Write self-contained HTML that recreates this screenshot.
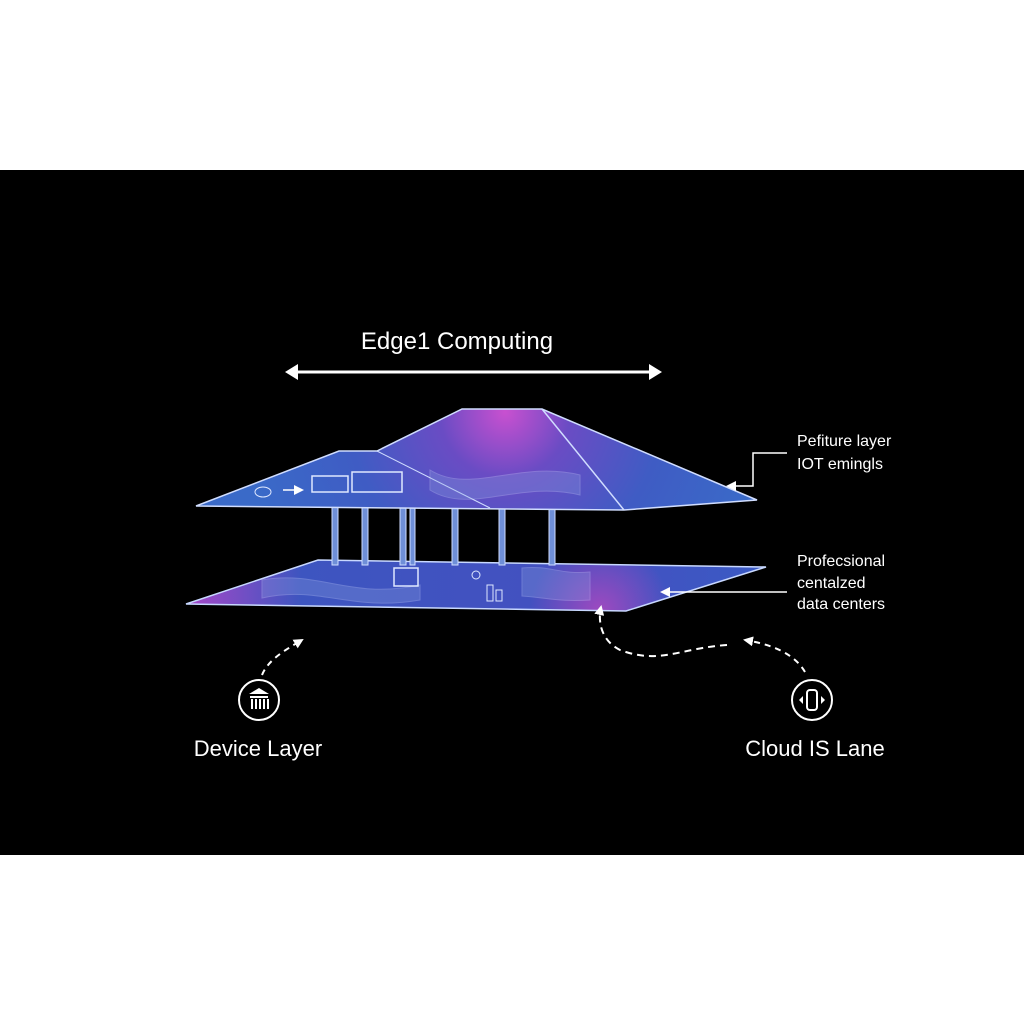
<!DOCTYPE html>
<html><head><meta charset="utf-8"><style>
html,body{margin:0;padding:0;background:#fff;}
svg{display:block;}
text{font-family:"Liberation Sans",sans-serif;fill:#fff;}
</style></head><body>
<svg width="1024" height="1024" viewBox="0 0 1024 1024" xmlns="http://www.w3.org/2000/svg">
<defs>
<radialGradient id="g1" cx="505" cy="412" r="260" gradientUnits="userSpaceOnUse">
<stop offset="0" stop-color="#c850d0"/><stop offset="0.25" stop-color="#6a4cc4"/><stop offset="0.6" stop-color="#3f5cc4"/><stop offset="1" stop-color="#3a6ac8"/>
</radialGradient>
<radialGradient id="g2" cx="600" cy="610" r="70" gradientUnits="userSpaceOnUse">
<stop offset="0" stop-color="#b448c0" stop-opacity="0.8"/><stop offset="1" stop-color="#b448c0" stop-opacity="0"/>
</radialGradient>
<linearGradient id="g3" x1="185" y1="0" x2="766" y2="0" gradientUnits="userSpaceOnUse">
<stop offset="0" stop-color="#a848c8"/><stop offset="0.2" stop-color="#3d55c0"/><stop offset="0.7" stop-color="#4450c0"/><stop offset="1" stop-color="#3a5ac4"/>
</linearGradient>
<clipPath id="cp"><polygon points="186,604 318,560 766,567 626,611"/></clipPath>
<marker id="ah" markerWidth="10" markerHeight="10" refX="8" refY="5" orient="auto" markerUnits="userSpaceOnUse"><path d="M0,0 L10,5 L0,10 z" fill="#fff"/></marker>
</defs>
<rect x="0" y="170" width="1024" height="685" fill="#000"/>

<text x="457" y="349" font-size="24" text-anchor="middle">Edge1 Computing</text>
<line x1="292" y1="372" x2="655" y2="372" stroke="#fff" stroke-width="3"/>
<path d="M285,372 L298,364 L298,380 z" fill="#fff"/><path d="M662,372 L649,364 L649,380 z" fill="#fff"/>

<!-- lower plate -->
<polygon points="186,604 318,560 766,567 626,611" fill="url(#g3)"/>
<g clip-path="url(#cp)"><circle cx="600" cy="610" r="70" fill="url(#g2)"/></g>
<polygon points="186,604 318,560 766,567 626,611" fill="none" stroke="#c8d8ff" stroke-width="1.5"/>
<path d="M262,580 C320,570 350,600 420,585 L420,600 C350,612 320,585 262,598 z" fill="#8aa0e0" opacity="0.3" stroke="#cfd9ff" stroke-width="1"/>
<path d="M522,568 C550,565 560,575 590,572 L590,600 C560,602 550,598 522,596 z" fill="#8aa0e0" opacity="0.3" stroke="#cfd9ff" stroke-width="1"/>
<rect x="394" y="568" width="24" height="18" fill="none" stroke="#dfe8ff" stroke-width="1.5"/>
<rect x="487" y="585" width="6" height="16" fill="none" stroke="#dfe8ff"/><rect x="496" y="590" width="6" height="11" fill="none" stroke="#dfe8ff"/>
<circle cx="476" cy="575" r="4" fill="none" stroke="#dfe8ff"/>

<!-- pillars -->
<g fill="#6f8fd8" stroke="#cfdcff" stroke-width="1">
<rect x="332" y="505" width="6" height="60"/><rect x="362" y="505" width="6" height="60"/>
<rect x="400" y="505" width="6" height="60"/><rect x="410" y="505" width="5" height="60"/>
<rect x="452" y="505" width="6" height="60"/><rect x="499" y="505" width="6" height="60"/>
<rect x="549" y="505" width="6" height="60"/>
</g>

<!-- roof -->
<polygon points="196,506 339,451 377,451 462,409 542,409 757,500 624,510 400,508" fill="url(#g1)" stroke="#d0ddff" stroke-width="1.5"/>
<line x1="542" y1="409" x2="624" y2="510" stroke="#d0ddff" stroke-width="1.5"/>
<line x1="377" y1="451" x2="490" y2="508" stroke="#d0ddff" stroke-width="1"/>
<path d="M430,470 C470,495 520,460 580,475 L580,495 C520,480 470,515 430,490 z" fill="#8aa0e0" opacity="0.3" stroke="#cfd9ff"/>
<rect x="312" y="476" width="36" height="16" fill="none" stroke="#dfe8ff" stroke-width="1.5"/>
<rect x="352" y="472" width="50" height="20" fill="none" stroke="#dfe8ff" stroke-width="1.5"/>
<line x1="283" y1="490" x2="302" y2="490" stroke="#fff" stroke-width="1.5" marker-end="url(#ah)"/>
<ellipse cx="263" cy="492" rx="8" ry="5" fill="none" stroke="#dfe8ff"/>

<!-- right labels -->
<text x="797" y="446" font-size="16">Pefiture layer</text>
<text x="797" y="469" font-size="16">IOT emingls</text>
<polyline points="787,453 753,453 753,486 728,486" fill="none" stroke="#fff" stroke-width="1.5" marker-end="url(#ah)"/>
<text x="797" y="566" font-size="16">Profecsional</text>
<text x="797" y="588" font-size="16">centalzed</text>
<text x="797" y="609" font-size="16">data centers</text>
<line x1="787" y1="592" x2="662" y2="592" stroke="#fff" stroke-width="1.5" marker-end="url(#ah)"/>

<!-- dashed curves -->
<path d="M262,675 C268,660 285,650 302,640" fill="none" stroke="#fff" stroke-width="2" stroke-dasharray="6,5" marker-end="url(#ah)"/>
<path d="M727,645 C680,648 660,665 620,650 C600,640 598,620 601,607" fill="none" stroke="#fff" stroke-width="2" stroke-dasharray="7,5" marker-end="url(#ah)"/>
<path d="M805,672 C795,655 775,645 745,640" fill="none" stroke="#fff" stroke-width="2" stroke-dasharray="6,5" marker-end="url(#ah)"/>

<!-- icons -->
<circle cx="259" cy="700" r="20" fill="none" stroke="#fff" stroke-width="2"/>
<path d="M249,694 L259,688 L269,694 z M250,696 h18 v2 h-18 z M251,699 h2 v10 h-2 z M255,699 h2 v10 h-2 z M259,699 h2 v10 h-2 z M263,699 h2 v10 h-2 z M267,699 h2 v10 h-2 z" fill="#fff"/>
<circle cx="812" cy="700" r="20" fill="none" stroke="#fff" stroke-width="2"/>
<rect x="807" y="690" width="10" height="20" rx="3" fill="none" stroke="#fff" stroke-width="2"/>
<path d="M803,696 L799,700 L803,704 z M821,696 L825,700 L821,704 z" fill="#fff"/>

<text x="258" y="756" font-size="22" text-anchor="middle">Device Layer</text>
<text x="815" y="756" font-size="22" text-anchor="middle">Cloud IS Lane</text>
</svg>
</body></html>
